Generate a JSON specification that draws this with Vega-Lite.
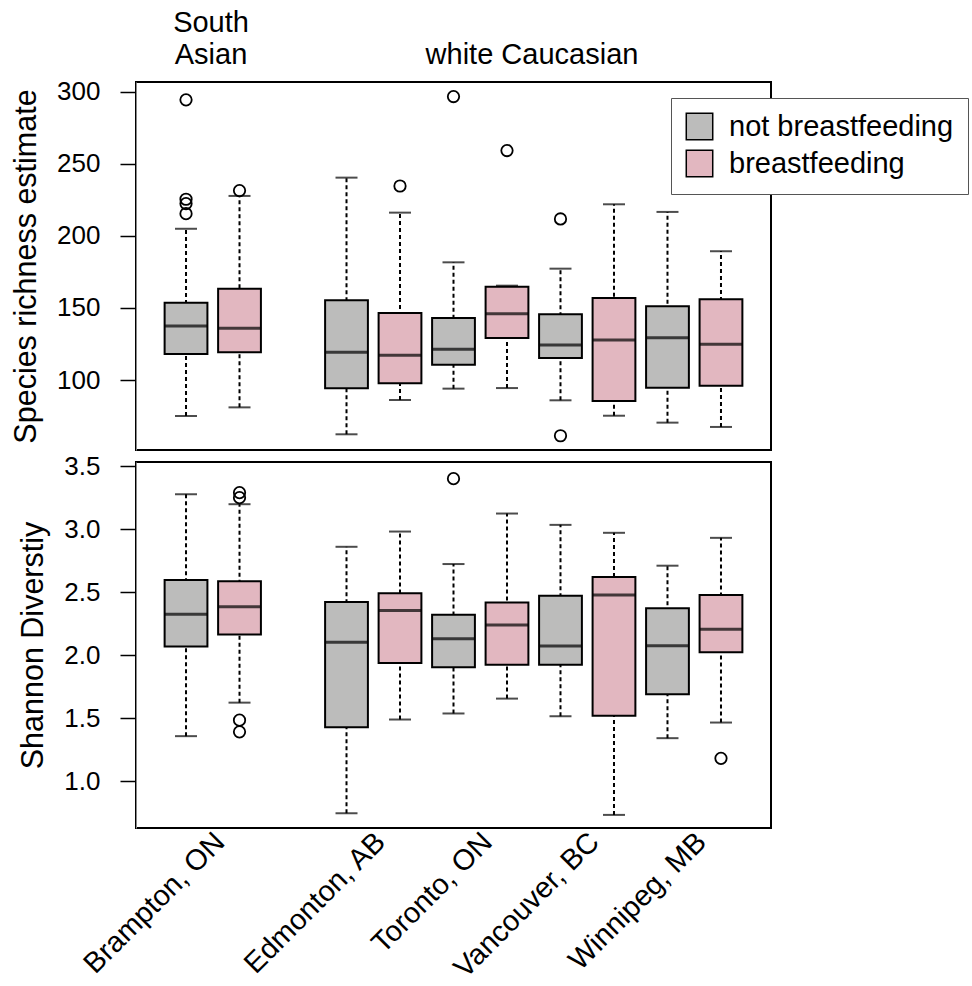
{
  "$schema": "https://vega.github.io/schema/vega-lite/v6.json",
  "padding": {"left": 10, "top": 7, "right": 0, "bottom": 0},
  "autosize": {"type": "pad"},
  "bounds": "flush",
  "spacing": 12,
  "datasets": {
    "boxes": [
      {"metric": "richness", "city": "Brampton, ON", "feeding": "not breastfeeding", "slot": "Brampton, ON|no", "lower": 75, "q1": 118, "median": 137.5, "q3": 153.7, "upper": 205},
      {"metric": "richness", "city": "Brampton, ON", "feeding": "breastfeeding", "slot": "Brampton, ON|yes", "lower": 81, "q1": 119.2, "median": 135.9, "q3": 163.4, "upper": 227.8},
      {"metric": "richness", "city": "Edmonton, AB", "feeding": "not breastfeeding", "slot": "Edmonton, AB|no", "lower": 62.3, "q1": 94.2, "median": 119.2, "q3": 155.3, "upper": 240.5},
      {"metric": "richness", "city": "Edmonton, AB", "feeding": "breastfeeding", "slot": "Edmonton, AB|yes", "lower": 86.1, "q1": 97.7, "median": 117.1, "q3": 146.5, "upper": 216.2},
      {"metric": "richness", "city": "Toronto, ON", "feeding": "not breastfeeding", "slot": "Toronto, ON|no", "lower": 94, "q1": 110.6, "median": 121.3, "q3": 143, "upper": 181.7},
      {"metric": "richness", "city": "Toronto, ON", "feeding": "breastfeeding", "slot": "Toronto, ON|yes", "lower": 94.4, "q1": 129.2, "median": 146, "q3": 164.8, "upper": 165.5},
      {"metric": "richness", "city": "Vancouver, BC", "feeding": "not breastfeeding", "slot": "Vancouver, BC|no", "lower": 85.9, "q1": 115.3, "median": 124.3, "q3": 145.6, "upper": 177.3},
      {"metric": "richness", "city": "Vancouver, BC", "feeding": "breastfeeding", "slot": "Vancouver, BC|yes", "lower": 75.2, "q1": 85.4, "median": 127.8, "q3": 157, "upper": 222},
      {"metric": "richness", "city": "Winnipeg, MB", "feeding": "not breastfeeding", "slot": "Winnipeg, MB|no", "lower": 70.4, "q1": 94.7, "median": 129.4, "q3": 151.2, "upper": 216.7},
      {"metric": "richness", "city": "Winnipeg, MB", "feeding": "breastfeeding", "slot": "Winnipeg, MB|yes", "lower": 67.4, "q1": 96, "median": 124.8, "q3": 156, "upper": 189.4},
      {"metric": "shannon", "city": "Brampton, ON", "feeding": "not breastfeeding", "slot": "Brampton, ON|no", "lower": 1.356, "q1": 2.068, "median": 2.324, "q3": 2.596, "upper": 3.276},
      {"metric": "shannon", "city": "Brampton, ON", "feeding": "breastfeeding", "slot": "Brampton, ON|yes", "lower": 1.622, "q1": 2.163, "median": 2.384, "q3": 2.585, "upper": 3.197},
      {"metric": "shannon", "city": "Edmonton, AB", "feeding": "not breastfeeding", "slot": "Edmonton, AB|no", "lower": 0.744, "q1": 1.427, "median": 2.102, "q3": 2.421, "upper": 2.859},
      {"metric": "shannon", "city": "Edmonton, AB", "feeding": "breastfeeding", "slot": "Edmonton, AB|yes", "lower": 1.488, "q1": 1.936, "median": 2.353, "q3": 2.49, "upper": 2.98},
      {"metric": "shannon", "city": "Toronto, ON", "feeding": "not breastfeeding", "slot": "Toronto, ON|no", "lower": 1.536, "q1": 1.902, "median": 2.129, "q3": 2.319, "upper": 2.722},
      {"metric": "shannon", "city": "Toronto, ON", "feeding": "breastfeeding", "slot": "Toronto, ON|yes", "lower": 1.654, "q1": 1.923, "median": 2.239, "q3": 2.416, "upper": 3.123},
      {"metric": "shannon", "city": "Vancouver, BC", "feeding": "not breastfeeding", "slot": "Vancouver, BC|no", "lower": 1.514, "q1": 1.923, "median": 2.071, "q3": 2.471, "upper": 3.033},
      {"metric": "shannon", "city": "Vancouver, BC", "feeding": "breastfeeding", "slot": "Vancouver, BC|yes", "lower": 0.731, "q1": 1.517, "median": 2.477, "q3": 2.619, "upper": 2.97},
      {"metric": "shannon", "city": "Winnipeg, MB", "feeding": "not breastfeeding", "slot": "Winnipeg, MB|no", "lower": 1.34, "q1": 1.688, "median": 2.073, "q3": 2.371, "upper": 2.709},
      {"metric": "shannon", "city": "Winnipeg, MB", "feeding": "breastfeeding", "slot": "Winnipeg, MB|yes", "lower": 1.464, "q1": 2.021, "median": 2.205, "q3": 2.477, "upper": 2.93}
    ],
    "outliers": [
      {"metric": "richness", "slot": "Brampton, ON|no", "value": 294.5},
      {"metric": "richness", "slot": "Brampton, ON|no", "value": 225.5},
      {"metric": "richness", "slot": "Brampton, ON|no", "value": 222.5},
      {"metric": "richness", "slot": "Brampton, ON|no", "value": 215.5},
      {"metric": "richness", "slot": "Brampton, ON|yes", "value": 231.5},
      {"metric": "richness", "slot": "Edmonton, AB|yes", "value": 234.7},
      {"metric": "richness", "slot": "Toronto, ON|no", "value": 296.8},
      {"metric": "richness", "slot": "Toronto, ON|yes", "value": 259.3},
      {"metric": "richness", "slot": "Vancouver, BC|no", "value": 211.8},
      {"metric": "richness", "slot": "Vancouver, BC|no", "value": 61.3},
      {"metric": "shannon", "slot": "Brampton, ON|yes", "value": 3.289},
      {"metric": "shannon", "slot": "Brampton, ON|yes", "value": 3.249},
      {"metric": "shannon", "slot": "Brampton, ON|yes", "value": 1.483},
      {"metric": "shannon", "slot": "Brampton, ON|yes", "value": 1.39},
      {"metric": "shannon", "slot": "Toronto, ON|no", "value": 3.4},
      {"metric": "shannon", "slot": "Winnipeg, MB|yes", "value": 1.18}
    ]
  },
  "vconcat": [
    {
      "width": 635,
      "height": 368,
      "encoding": {
        "x": {
          "field": "slot", "type": "nominal",
          "scale": {"domain": ["Brampton, ON|no", "Brampton, ON|yes", "|gap", "Edmonton, AB|no", "Edmonton, AB|yes", "Toronto, ON|no", "Toronto, ON|yes", "Vancouver, BC|no", "Vancouver, BC|yes", "Winnipeg, MB|no", "Winnipeg, MB|yes"], "paddingInner": 0.2, "paddingOuter": 0.535},
          "axis": {"orient": "top", "title": null, "ticks": false, "domain": false, "labelAngle": 0, "labelFontSize": 29, "labelLineHeight": 32, "labelBaseline": "bottom", "labelPadding": 45, "labelOffset": 25, "labelLimit": 0,
            "labelExpr": "datum.value == 'Brampton, ON|no' ? ['South', 'Asian'] : (datum.value == 'Toronto, ON|yes' ? ['', 'white Caucasian'] : '')"}
        }
      },
      "layer": [
        {
          "data": {"name": "boxes"},
          "transform": [{"filter": "datum.metric == 'richness'"}],
          "mark": {"type": "rule", "strokeDash": [4, 3], "strokeWidth": 2, "color": "black"},
          "encoding": {
            "y": {"field": "lower", "type": "quantitative", "scale": {"domain": [51.4, 306.9], "nice": false, "zero": false},
              "axis": {"title": "Species richness estimate", "values": [100, 150, 200, 250, 300], "format": "d", "tickSize": 16, "tickWidth": 1.5, "labelFontSize": 26, "labelPadding": 20, "titleFontSize": 30.5, "titlePadding": 15}},
            "y2": {"field": "upper"}
          }
        },
        {
          "data": {"name": "boxes"},
          "transform": [{"filter": "datum.metric == 'richness'"}],
          "mark": {"type": "bar", "stroke": "black", "strokeWidth": 2},
          "encoding": {
            "y": {"field": "q1", "type": "quantitative"},
            "y2": {"field": "q3"},
            "fill": {"field": "feeding", "type": "nominal",
              "scale": {"domain": ["not breastfeeding", "breastfeeding"], "range": ["#bcbcbb", "#e2b7c0"]},
              "legend": {"title": null, "orient": "none", "legendX": 535, "legendY": 16, "padding": 14, "strokeColor": "#555555", "fillColor": "white", "labelFontSize": 29, "labelColor": "black", "labelFont": "Liberation Sans", "labelLimit": 0, "symbolType": "square", "symbolSize": 700, "symbolStrokeColor": "black", "symbolStrokeWidth": 1.5, "symbolOpacity": 1, "labelOffset": 15, "rowPadding": 4}}
          }
        },
        {
          "data": {"name": "boxes"},
          "transform": [{"filter": "datum.metric == 'richness'"}],
          "mark": {"type": "tick", "color": "black", "size": 43, "thickness": 3},
          "encoding": {"y": {"field": "median", "type": "quantitative"}}
        },
        {
          "data": {"name": "boxes"},
          "transform": [{"filter": "datum.metric == 'richness'"}],
          "mark": {"type": "tick", "color": "black", "size": 22, "thickness": 2},
          "encoding": {"y": {"field": "lower", "type": "quantitative"}}
        },
        {
          "data": {"name": "boxes"},
          "transform": [{"filter": "datum.metric == 'richness'"}],
          "mark": {"type": "tick", "color": "black", "size": 22, "thickness": 2},
          "encoding": {"y": {"field": "upper", "type": "quantitative"}}
        },
        {
          "data": {"name": "outliers"},
          "transform": [{"filter": "datum.metric == 'richness'"}],
          "mark": {"type": "point", "shape": "circle", "filled": false, "stroke": "black", "strokeWidth": 1.8, "size": 130, "opacity": 1},
          "encoding": {"y": {"field": "value", "type": "quantitative"}}
        }
      ]
    },
    {
      "width": 635,
      "height": 366,
      "encoding": {
        "x": {
          "field": "slot", "type": "nominal",
          "scale": {"domain": ["Brampton, ON|no", "Brampton, ON|yes", "|gap", "Edmonton, AB|no", "Edmonton, AB|yes", "Toronto, ON|no", "Toronto, ON|yes", "Vancouver, BC|no", "Vancouver, BC|yes", "Winnipeg, MB|no", "Winnipeg, MB|yes"], "paddingInner": 0.2, "paddingOuter": 0.535},
          "axis": {"orient": "bottom", "title": null, "ticks": false, "domain": false, "labelAngle": -45, "labelAlign": "right", "labelBaseline": "middle", "labelFontSize": 29, "labelPadding": 9, "labelOffset": 34, "labelLimit": 0,
            "labelExpr": "indexof(datum.value, '|no') > 0 ? split(datum.value, '|')[0] : ''"}
        }
      },
      "layer": [
        {
          "data": {"name": "boxes"},
          "transform": [{"filter": "datum.metric == 'shannon'"}],
          "mark": {"type": "rule", "strokeDash": [4, 3], "strokeWidth": 2, "color": "black"},
          "encoding": {
            "y": {"field": "lower", "type": "quantitative", "scale": {"domain": [0.627, 3.532], "nice": false, "zero": false},
              "axis": {"title": "Shannon Diverstiy", "values": [1, 1.5, 2, 2.5, 3, 3.5], "format": ".1f", "tickSize": 16, "tickWidth": 1.5, "labelFontSize": 26, "labelPadding": 20, "titleFontSize": 30.5, "titlePadding": 15}},
            "y2": {"field": "upper"}
          }
        },
        {
          "data": {"name": "boxes"},
          "transform": [{"filter": "datum.metric == 'shannon'"}],
          "mark": {"type": "bar", "stroke": "black", "strokeWidth": 2},
          "encoding": {
            "y": {"field": "q1", "type": "quantitative"},
            "y2": {"field": "q3"},
            "fill": {"field": "feeding", "type": "nominal",
              "scale": {"domain": ["not breastfeeding", "breastfeeding"], "range": ["#bcbcbb", "#e2b7c0"]},
              "legend": null}
          }
        },
        {
          "data": {"name": "boxes"},
          "transform": [{"filter": "datum.metric == 'shannon'"}],
          "mark": {"type": "tick", "color": "black", "size": 43, "thickness": 3},
          "encoding": {"y": {"field": "median", "type": "quantitative"}}
        },
        {
          "data": {"name": "boxes"},
          "transform": [{"filter": "datum.metric == 'shannon'"}],
          "mark": {"type": "tick", "color": "black", "size": 22, "thickness": 2},
          "encoding": {"y": {"field": "lower", "type": "quantitative"}}
        },
        {
          "data": {"name": "boxes"},
          "transform": [{"filter": "datum.metric == 'shannon'"}],
          "mark": {"type": "tick", "color": "black", "size": 22, "thickness": 2},
          "encoding": {"y": {"field": "upper", "type": "quantitative"}}
        },
        {
          "data": {"name": "outliers"},
          "transform": [{"filter": "datum.metric == 'shannon'"}],
          "mark": {"type": "point", "shape": "circle", "filled": false, "stroke": "black", "strokeWidth": 1.8, "size": 130, "opacity": 1},
          "encoding": {"y": {"field": "value", "type": "quantitative"}}
        }
      ]
    }
  ],
  "resolve": {"scale": {"x": "independent", "fill": "independent"}, "legend": {"fill": "independent"}},
  "config": {
    "font": "Liberation Sans",
    "view": {"stroke": "black", "strokeWidth": 2},
    "axis": {"grid": false, "labelColor": "black", "titleColor": "black", "tickColor": "black", "labelFont": "Liberation Sans", "titleFont": "Liberation Sans", "titleFontWeight": "normal"}
  }
}
